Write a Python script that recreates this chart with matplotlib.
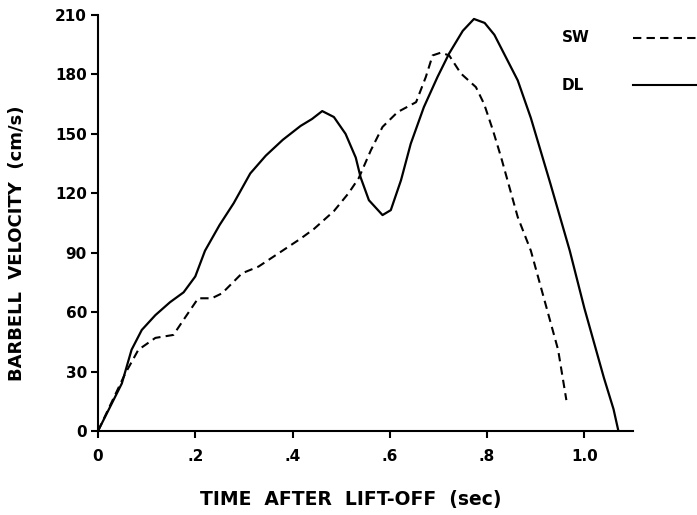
#!/usr/bin/env python3

import numpy as np
from matplotlib import pyplot as plt
from matplotlib.lines import Line2D

# velocity curves
dl_t = [0, 0.049, 0.069, 0.09, 0.118, 0.148, 0.176, 0.2, 0.22, 0.25, 0.279, 0.313,
        0.345, 0.38, 0.4165, 0.44, 0.461, 0.485, 0.509, 0.53, 0.54, 0.557, 0.585,
        0.602, 0.623, 0.643, 0.67, 0.698, 0.722, 0.75, 0.773, 0.795, 0.815, 0.863,
        0.89, 0.93, 0.97, 1.0, 1.04, 1.06, 1.07]
dl_v = [0, 24, 41, 51, 58.5, 65, 70, 78, 91, 104, 115, 130,
        139, 147, 154, 157.5, 161.5, 158.5, 150, 138, 128, 116.5, 109,
        111.5, 126.6, 145, 163.5, 178.7, 190.6, 202, 208, 206, 200, 177,
        158, 125, 91, 62, 27, 11, 0]

sw_t = [0, 0.056, 0.083, 0.118, 0.155, 0.18, 0.206, 0.234, 0.255, 0.296, 0.33, 0.365,
        0.416, 0.444, 0.485, 0.515, 0.536, 0.561, 0.585, 0.616, 0.654, 0.674, 0.688,
        0.705, 0.722, 0.746, 0.777, 0.794, 0.812, 0.829, 0.863, 0.89, 0.918, 0.946,
        0.963]
sw_v = [0, 29, 41, 47, 48.5, 57.6, 67, 67, 69.5, 79.6, 83, 88.7,
        97, 102, 111, 120, 127.6, 141.7, 153.5, 161, 166, 178.7, 189.6,
        191, 189.6, 180.5, 173.6, 165, 151.8, 138, 108, 91, 66, 41,
        15.6]

xticks = [0, 0.2, 0.4, 0.6, 0.8, 1.0]
xticklabels = ["0", ".2", ".4", ".6", ".8", "1.0"]
yticks = [0, 30, 60, 90, 120, 150, 180, 210]

plt.rcParams['font.family'] = ['DejaVu Sans']
plt.rcParams['font.weight'] = 'bold'

fig = plt.figure(figsize=(6.97, 5.15), dpi=100)
ax = fig.add_axes([98 / 697, 1 - 431 / 515, (633 - 98) / 697, (431 - 15) / 515])

ax.plot(dl_t, dl_v, color='black', lw=1.6, solid_joinstyle='round')
ax.plot(sw_t, sw_v, color='black', lw=1.5, linestyle=(0, (4, 2.5)))

ax.set_xlim(0, 1.1)
ax.set_ylim(0, 210)
ax.spines['top'].set_visible(False)
ax.spines['right'].set_visible(False)
for s in ('left', 'bottom'):
    ax.spines[s].set_linewidth(1.5)

ax.set_xticks(xticks)
ax.set_xticklabels(xticklabels)
ax.set_yticks(yticks)
ax.tick_params(axis='both', direction='out', length=5, width=1.5, labelsize=11)
ax.tick_params(axis='x', pad=8)
ax.tick_params(axis='y', pad=3)

# axis titles placed where the original has them
fig.text(351 / 697, 1 - 500 / 515, "TIME  AFTER  LIFT-OFF  (sec)", fontsize=13.5,
         fontweight='bold', ha='center', va='center')
fig.text(17 / 697, 1 - 243 / 515, "BARBELL  VELOCITY  (cm/s)", fontsize=13,
         fontweight='bold', ha='center', va='center', rotation=90)

# legend drawn outside the axes, as in the original
for label, ls, ypix in [("SW", (0, (4, 2.5)), 38), ("DL", '-', 85)]:
    yf = 1 - ypix / 515
    fig.text(562 / 697, yf, label, fontsize=11, fontweight='bold', va='center', ha='left')
    fig.add_artist(Line2D([633 / 697, 1.0], [yf, yf], transform=fig.transFigure,
                          color='black', lw=1.5, linestyle=ls))

plt.savefig("out.png", dpi=100)
